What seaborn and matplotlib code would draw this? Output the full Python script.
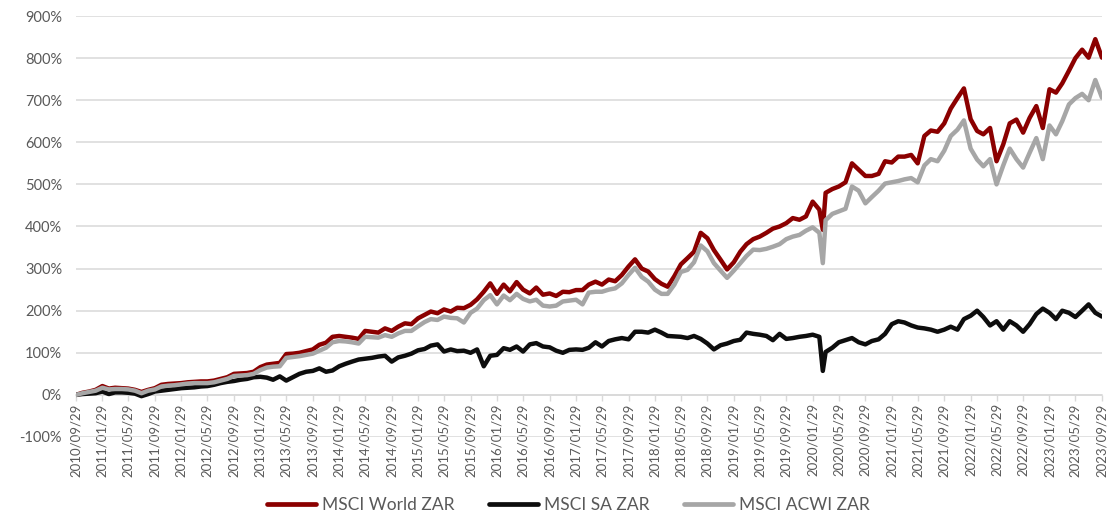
import numpy as np
import pandas as pd
import matplotlib
matplotlib.use("Agg")
import matplotlib.pyplot as plt
import matplotlib.dates as mdates
from matplotlib.ticker import FuncFormatter, MultipleLocator, FixedLocator, NullLocator
import seaborn as sns

# ---------------- data (monthly from 2010/09/29) ----------------
start_date = "2010-09-29"
series_names = ["MSCI World ZAR", "MSCI SA ZAR", "MSCI ACWI ZAR"]

world = [
    0, 5, 8, 12, 21, 15, 17, 16, 15, 12,
    7, 12, 16, 24, 26, 27, 28, 30, 31, 32,
    32, 34, 38, 42, 50, 51, 52, 55, 66, 72,
    74, 76, 97, 98, 100, 104, 108, 119, 124, 138,
    140, 138, 136, 133, 152, 150, 148, 158, 152, 162,
    170, 168, 182, 190, 198, 194, 203, 198, 207, 206,
    214, 227, 245, 265, 240, 262, 246, 268, 250, 241,
    255, 238, 241, 235, 245, 244, 249, 249, 262, 269,
    262, 274, 270, 285, 305, 322, 300, 293, 275, 264,
    257, 282, 310, 325, 340, 385, 372, 344, 321, 298,
    315, 340, 358, 370, 376, 385, 395, 400, 408, 420,
    416, 424, 459, 440, 480, 489, 495, 505, 550, 535,
    520, 520, 525, 555, 552, 566, 566, 570, 550, 615,
    628, 625, 645, 680, 705, 728, 655, 627, 619, 634,
    555, 595, 645, 654, 623, 658, 686, 634, 726, 718,
    740, 770, 800, 820, 801, 845, 801,
]

sa = [
    0, 2, 3, 4, 8, 2, 6, 6, 5, 3,
    -3, 2, 8, 10, 12, 14, 16, 17, 18, 20,
    21, 24, 28, 31, 33, 36, 38, 42, 43, 41,
    36, 44, 34, 42, 50, 55, 57, 63, 55, 58,
    68, 74, 79, 84, 86, 88, 91, 93, 79, 89,
    93, 98, 106, 109, 117, 120, 103, 108, 104, 105,
    100, 108, 68, 93, 95, 111, 107, 115, 103, 120,
    123, 115, 113, 105, 100, 107, 108, 107, 112, 125,
    115, 128, 132, 135, 132, 150, 150, 148, 155, 148,
    140, 139, 138, 135, 140, 133, 122, 108, 118, 122,
    128, 131, 148, 145, 143, 140, 130, 145, 133, 135,
    138, 140, 143, 138, 102, 112, 125, 130, 135, 125,
    120, 128, 132, 145, 168, 175, 172, 165, 160, 158,
    155, 150, 155, 162, 155, 180, 188, 200, 185, 165,
    175, 155, 175, 165, 150, 168, 192, 205, 195, 180,
    200, 195, 185, 200, 215, 195, 186,
]

acwi = [
    0, 4, 7, 10, 17, 13, 14, 14, 13, 10,
    4, 10, 13, 20, 22, 23, 25, 27, 28, 28,
    28, 30, 34, 38, 45, 46, 47, 50, 59, 65,
    67, 68, 88, 90, 92, 95, 98, 105, 112, 125,
    128, 127, 125, 122, 138, 137, 136, 142, 138, 146,
    152, 152, 163, 173, 180, 178, 186, 183, 182, 172,
    195, 205, 225, 237, 215, 236, 225, 240, 228, 222,
    226, 212, 210, 212, 222, 224, 226, 215, 243, 245,
    245, 250, 253, 265, 285, 302, 280, 269, 250, 240,
    240, 262, 292, 297, 315, 355, 341, 313, 295, 278,
    295, 313, 330, 345, 344, 347, 352, 358, 370, 376,
    380, 390, 398, 385, 415, 430, 436, 442, 495, 485,
    455, 470, 485, 502, 505, 508, 512, 515, 505, 545,
    560, 555, 580, 615, 630, 652, 585, 559, 543, 560,
    500, 545, 585, 560, 540, 575, 610, 560, 640, 619,
    650, 690, 705, 715, 700, 748, 706,
]

# March-2020 crash low (between two monthly readings)
extra_dates = ["2020-03-16"]
extra_world = [392]
extra_sa = [57]
extra_acwi = [313]

colors = ["#8B0000", "#0D0D0D", "#A6A6A6"]

# ---------------- build long-form frame ----------------
start = pd.Timestamp(start_date)
dates = [start + pd.DateOffset(months=i) for i in range(len(world))]
dates = dates + [pd.Timestamp(d) for d in extra_dates]
vals = {
    series_names[0]: list(world) + extra_world,
    series_names[1]: list(sa) + extra_sa,
    series_names[2]: list(acwi) + extra_acwi,
}
frames = []
for name in series_names:
    frames.append(pd.DataFrame({"date": dates, "value": vals[name], "series": name}))
df = pd.concat(frames, ignore_index=True).sort_values(["series", "date"])

# ---------------- plot ----------------
sns.set_theme(style="white")
plt.rcParams["font.family"] = ["Lato", "DejaVu Sans"]

fig = plt.figure(figsize=(11.17, 5.14), dpi=100)
ax = fig.add_axes([76 / 1117, 1 - 437 / 514, (1102 - 76) / 1117, (437 - 16) / 514])

sns.lineplot(data=df, x="date", y="value", hue="series", hue_order=series_names,
             palette=colors, linewidth=3.2, ax=ax, legend=False, sort=True,
             estimator=None)

ax.set_ylim(-100, 900)
ax.set_xlim(mdates.date2num(pd.Timestamp("2010-09-29")), mdates.date2num(pd.Timestamp("2023-09-29")))
ax.yaxis.set_major_locator(MultipleLocator(100))
ax.yaxis.set_major_formatter(FuncFormatter(lambda v, p: f"{v:.0f}%"))
ax.grid(axis="y", color="#D9D9D9", linewidth=1.1)
ax.grid(axis="x", visible=False)
ax.set_axisbelow(True)

ticks = [start + pd.DateOffset(months=4 * i) for i in range(40)]
ax.xaxis.set_major_locator(FixedLocator([mdates.date2num(t) for t in ticks]))
ax.xaxis.set_major_formatter(mdates.DateFormatter("%Y/%m/%d"))
ax.xaxis.set_minor_locator(NullLocator())

for s in ["top", "right", "left"]:
    ax.spines[s].set_visible(False)
ax.spines["bottom"].set_position(("data", 0))
ax.spines["bottom"].set_color("#D9D9D9")
ax.spines["bottom"].set_linewidth(1.1)
ax.spines["bottom"].set_zorder(0.5)

ax.tick_params(axis="x", which="major", direction="out", length=4, width=1,
               color="#D9D9D9", labelcolor="#595959", labelsize=9.5, pad=2,
               bottom=True, labelrotation=90)
ax.tick_params(axis="y", length=0, labelcolor="#595959", labelsize=10.5, pad=10)
ax.set_xlabel("")
ax.set_ylabel("")

handles = [matplotlib.lines.Line2D([], [], color=c, linewidth=3.4) for c in colors]
fig.legend(handles, series_names, loc="lower center", bbox_to_anchor=(0.509, -0.028),
           ncol=3, frameon=False, fontsize=12.5, handlelength=2.8, handletextpad=0.35,
           columnspacing=2.0, labelcolor="#595959")

fig.savefig("out.png", dpi=100)
